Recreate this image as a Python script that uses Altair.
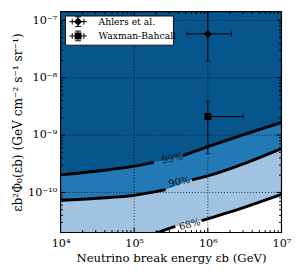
import altair as alt
import pandas as pd

# ---------------- data ----------------
# contour curves (energy in GeV, flux E^2 Phi in GeV cm^-2 s^-1 sr^-1); seg marks the label gap
c99_E = [1e4, 3.2e4, 1e5, 1.85e5, 4.6e5, 1e6, 3.2e6, 1e7]
c99_F = [2.02e-10, 2.36e-10, 2.87e-10, 3.35e-10, 4.40e-10, 6.27e-10, 1.04e-9, 1.66e-9]
c99_seg = [0, 0, 0, 0, 1, 1, 1, 1]

c90_E = [1e4, 3.2e4, 1e5, 2.67e5, 6.07e5, 1e6, 3.2e6, 1e7]
c90_F = [7.31e-11, 7.91e-11, 8.89e-11, 1.12e-10, 1.66e-10, 1.94e-10, 3.22e-10, 5.79e-10]
c90_seg = [0, 0, 0, 0, 1, 1, 1, 1]

c68_E = [1e4, 3.2e4, 1e5, 3.62e5, 8.2e5, 3.2e6, 1e7]
c68_F = [6.78e-12, 1.0e-11, 1.48e-11, 2.55e-11, 3.22e-11, 5.57e-11, 9.25e-11]
c68_seg = [0, 0, 0, 0, 1, 1, 1]

# contour labels
lab_text = ["99%", "90%", "68%"]
lab_E = [3.3e5, 4.1e5, 5.7e5]
lab_F = [3.92e-10, 1.53e-10, 2.75e-11]
lab_angle = [348, 348, 346]

# data points with error bars
pt_name = ["Ahlers et al.", "Waxman-Bahcall"]
pt_shape = ["diamond", "square"]
pt_E = [1e6, 1e6]
pt_F = [5.8e-8, 2.1e-9]
pt_E_lo = [5.2e5, 1e6]
pt_E_hi = [2.1e6, 3.0e6]
pt_F_lo = [1.95e-8, 4.8e-10]
pt_F_hi = [3.0e-7, 3.9e-9]

# axis ticks
x_major = [1e4, 1e5, 1e6, 1e7]
y_major = [1e-10, 1e-9, 1e-8, 1e-7]
X_DOM = [1e4, 1e7]
Y_DOM = [2.0e-11, 1.42e-7]
x_minor = [m * 10.0 ** k for k in (4, 5, 6) for m in range(2, 10)]
y_minor = [m * 10.0 ** k for k in (-11, -10, -9, -8, -7) for m in range(2, 10)
           if Y_DOM[0] <= m * 10.0 ** k <= Y_DOM[1]]

# ---------------- styling ----------------
W, H = 227, 227
FONT = "DejaVu Serif"
DARK = "#06558d"
MID = "#2379b6"
LIGHT = "#a1c3e2"

xs = alt.Scale(type="log", domain=X_DOM, nice=False)
ys = alt.Scale(type="log", domain=Y_DOM, nice=False)

sup_x = "['⁰','¹','²','³','⁴','⁵','⁶','⁷','⁸','⁹'][round(log(datum.value)/LN10)]"
sup_y = "['','','','','','','','⁷','⁸','⁹','¹⁰','¹¹'][-round(log(datum.value)/LN10)]"

xaxis = alt.Axis(
    title="Neutrino break energy εb (GeV)", values=x_major, ticks=False, domain=False, grid=False,
    labelExpr="'10' + " + sup_x, labelFont=FONT, labelFontSize=11.5, labelColor="black",
    labelPadding=5, labelFlush=False, labelOverlap=False,
    titleFont=FONT, titleFontSize=12, titleFontWeight="normal", titleColor="black",
    titlePadding=4,
)
yaxis = alt.Axis(
    title="εb²Φ₀(εb) (GeV cm⁻² s⁻¹ sr⁻¹)", values=y_major, ticks=False, domain=False, grid=False,
    labelExpr="'10⁻' + " + sup_y, labelFont=FONT, labelFontSize=11.5, labelColor="black",
    labelPadding=4, labelFlush=False, labelOverlap=False,
    titleFont=FONT, titleFontSize=12.5, titleFontWeight="normal", titleColor="black",
    titlePadding=3,
)


def X(field="E"):
    return alt.X(f"{field}:Q", scale=xs, axis=xaxis)


def Y(field="F"):
    return alt.Y(f"{field}:Q", scale=ys, axis=yaxis)


def curve_df(E, F, seg):
    return pd.DataFrame({"E": E, "F": F, "seg": seg, "base": [Y_DOM[0]] * len(E)})


d99 = curve_df(c99_E, c99_F, c99_seg)
d90 = curve_df(c90_E, c90_F, c90_seg)
d68 = curve_df(c68_E, c68_F, c68_seg)

layers = []
# dark background of the plot area
layers.append(
    alt.Chart(pd.DataFrame({"E": [X_DOM[0]], "E2": [X_DOM[1]], "F": [Y_DOM[0]], "F2": [Y_DOM[1]]}))
    .mark_rect(color=DARK)
    .encode(x=X(), x2="E2:Q", y=Y(), y2="F2:Q")
)
for df, col in ((d99, MID), (d90, LIGHT), (d68, "white")):
    layers.append(
        alt.Chart(df).mark_area(clip=True, interpolate="monotone", color=col, opacity=1)
        .encode(x=X(), y=Y(), y2="base:Q")
    )

# dotted grid at the decades
layers.append(alt.Chart(pd.DataFrame({"E": x_major})).mark_rule(color="black", strokeWidth=0.8,
                                                                 strokeDash=[1, 2])
              .encode(x=X(), y=alt.value(0), y2=alt.value(H)))
layers.append(alt.Chart(pd.DataFrame({"F": y_major})).mark_rule(color="black", strokeWidth=0.8,
                                                                 strokeDash=[1, 2])
              .encode(y=Y(), x=alt.value(0), x2=alt.value(W)))

for df in (d99, d90, d68):
    layers.append(
        alt.Chart(df).mark_line(clip=True, interpolate="monotone", color="black", strokeWidth=3)
        .encode(x=X(), y=Y(), detail="seg:N")
    )

labels = pd.DataFrame({"E": lab_E, "F": lab_F, "t": lab_text, "a": lab_angle})
layers.append(
    alt.Chart(labels).mark_text(font=FONT, fontSize=10, color="#111111")
    .encode(x=X(), y=Y(), text="t:N", angle=alt.Angle("a:Q", scale=None))
)

pts = pd.DataFrame({"name": pt_name, "E": pt_E, "F": pt_F, "Elo": pt_E_lo, "Ehi": pt_E_hi,
                    "Flo": pt_F_lo, "Fhi": pt_F_hi})
layers.append(
    alt.Chart(pts).mark_rule(clip=True, color="black", strokeWidth=1)
    .encode(x=X("Elo"), x2="Ehi:Q", y=Y())
)
layers.append(
    alt.Chart(pts).mark_rule(clip=True, color="black", strokeWidth=1)
    .encode(x=X(), y=Y("Flo"), y2="Fhi:Q")
)
xcaps = pd.DataFrame({"E": pt_E_lo + pt_E_hi, "F": pt_F + pt_F})
ycaps = pd.DataFrame({"E": pt_E + pt_E, "F": pt_F_lo + pt_F_hi})
layers.append(
    alt.Chart(xcaps).mark_tick(clip=True, orient="vertical", color="black", size=6, thickness=1)
    .encode(x=X(), y=Y())
)
layers.append(
    alt.Chart(ycaps).mark_tick(clip=True, orient="horizontal", color="black", size=6, thickness=1)
    .encode(x=X(), y=Y())
)
layers.append(
    alt.Chart(pts.iloc[[0]]).mark_point(shape="diamond", filled=True, color="black", size=70, opacity=1)
    .encode(x=X(), y=Y())
)
layers.append(
    alt.Chart(pts.iloc[[1]]).mark_point(shape="square", filled=True, color="black", size=50, opacity=1)
    .encode(x=X(), y=Y())
)

# inward ticks on all four sides
xt_major = pd.DataFrame({"E": x_major})
xt_minor = pd.DataFrame({"E": x_minor})
yt_major = pd.DataFrame({"F": y_major})
yt_minor = pd.DataFrame({"F": y_minor})
for df, ln in ((xt_major, 5), (xt_minor, 2.5)):
    layers.append(alt.Chart(df).mark_rule(color="black", strokeWidth=1)
                  .encode(x=X(), y=alt.value(H), y2=alt.value(H - ln)))
    layers.append(alt.Chart(df).mark_rule(color="black", strokeWidth=1)
                  .encode(x=X(), y=alt.value(0), y2=alt.value(ln)))
for df, ln in ((yt_major, 5), (yt_minor, 2.5)):
    layers.append(alt.Chart(df).mark_rule(color="black", strokeWidth=1)
                  .encode(y=Y(), x=alt.value(0), x2=alt.value(ln)))
    layers.append(alt.Chart(df).mark_rule(color="black", strokeWidth=1)
                  .encode(y=Y(), x=alt.value(W), x2=alt.value(W - ln)))

one = pts.iloc[[0]]


def hrule(x1, x2, y, color="black", sw=1):
    return (alt.Chart(one).mark_rule(color=color, strokeWidth=sw, strokeCap="butt", opacity=1)
            .encode(x=alt.value(x1), x2=alt.value(x2), y=alt.value(y)))


def vrule(x, y1, y2, color="black", sw=1):
    return (alt.Chart(one).mark_rule(color=color, strokeWidth=sw, strokeCap="butt", opacity=1)
            .encode(x=alt.value(x), y=alt.value(y1), y2=alt.value(y2)))


# ---------------- legend (drawn by hand, inside the plot) ----------------
LX0, LY0, LW, LH = 5, 4.5, 111, 30
ROW_Y = [10.3, 25.0]
SYM_X = 18
TXT_X = 39
layers.append(
    alt.Chart(one).mark_rect(color="white", fill="white", opacity=1)
    .encode(x=alt.value(LX0), x2=alt.value(LX0 + LW), y=alt.value(LY0), y2=alt.value(LY0 + LH))
)
layers.append(hrule(LX0, LX0 + LW, LY0 + LH / 2, color="#ffffff", sw=LH))
layers.append(hrule(LX0, LX0 + LW, LY0))
layers.append(hrule(LX0, LX0 + LW, LY0 + LH))
layers.append(vrule(LX0, LY0, LY0 + LH))
layers.append(vrule(LX0 + LW, LY0, LY0 + LH))
for i, (nm, shp) in enumerate(zip(pt_name, pt_shape)):
    ry = ROW_Y[i]
    layers.append(hrule(SYM_X - 9, SYM_X + 9, ry))
    layers.append(vrule(SYM_X, ry - 5, ry + 5))
    for dx in (-6, 6):
        layers.append(vrule(SYM_X + dx, ry - 3, ry + 3))
    for dy in (-5, 5):
        layers.append(hrule(SYM_X - 3, SYM_X + 3, ry + dy))
    layers.append(alt.Chart(one).mark_point(shape=shp, filled=True, color="black",
                                            size=70 if shp == "diamond" else 50, opacity=1)
                  .encode(x=alt.value(SYM_X), y=alt.value(ry)))
    layers.append(alt.Chart(one).mark_text(font=FONT, fontSize=9.5, color="black", align="left",
                                           baseline="middle")
                  .encode(x=alt.value(TXT_X), y=alt.value(ry), text=alt.value(nm)))

# frame
layers.append(hrule(0, W, 0, sw=1.2))
layers.append(hrule(0, W, H, sw=1.2))
layers.append(vrule(0, 0, H, sw=1.2))
layers.append(vrule(W, 0, H, sw=1.2))

chart = (
    alt.layer(*layers)
    .properties(width=W, height=H,
                autosize=alt.AutoSizeParams(type="none"),
                padding={"left": 54, "top": 0, "right": 18, "bottom": 43})
    .configure_view(stroke=None)
)

chart.save("out.html", embed_options={"renderer": "svg", "actions": False})
